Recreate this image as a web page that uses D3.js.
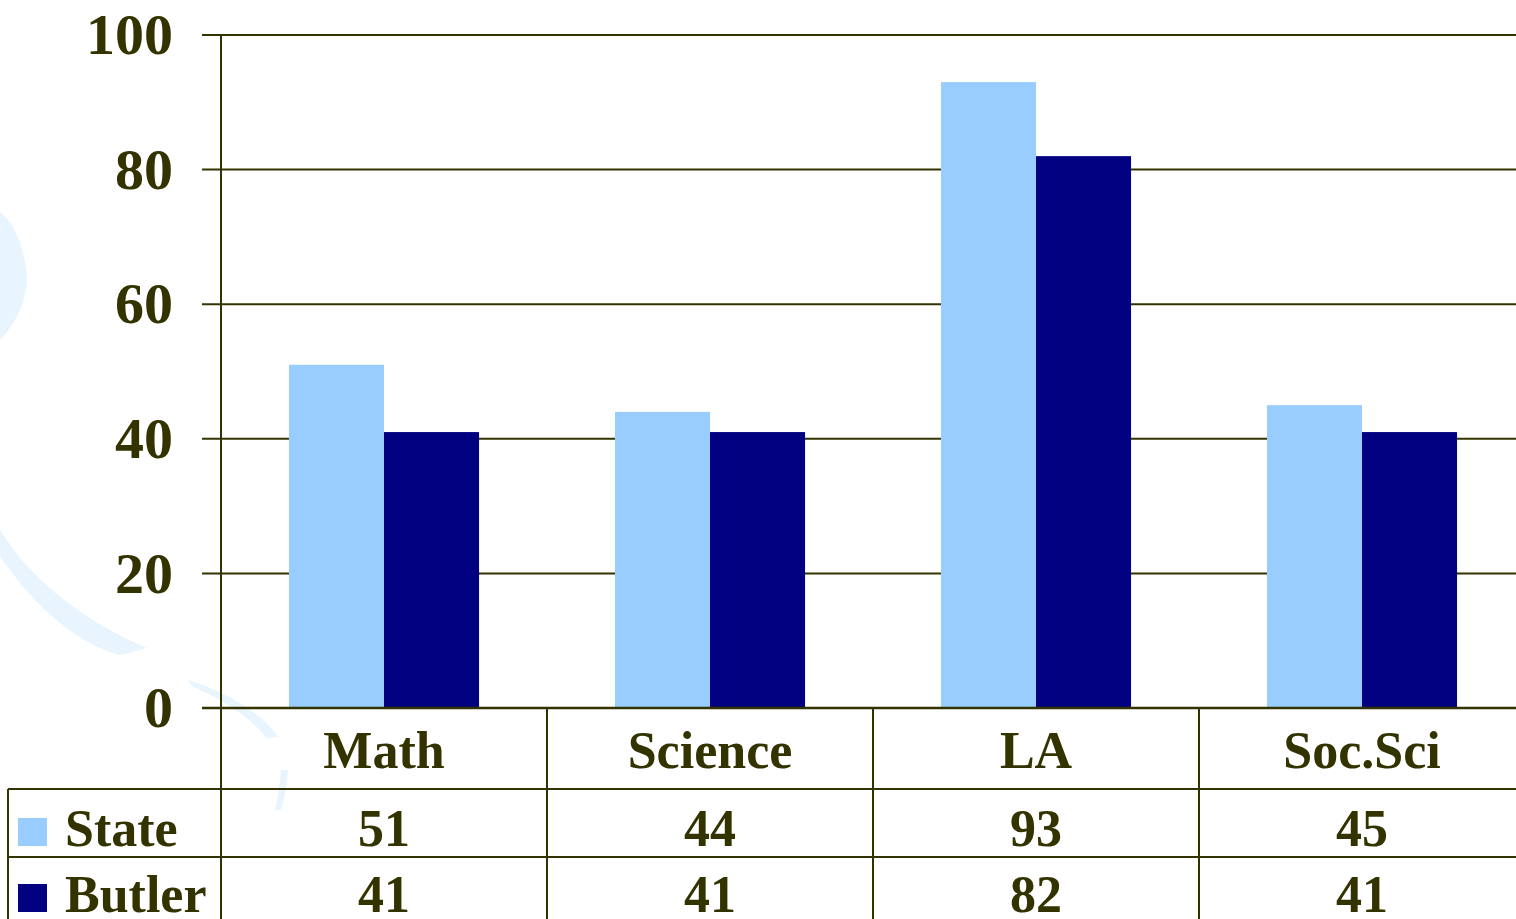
<!DOCTYPE html>
<html>
<head>
<meta charset="utf-8">
<style>
  body { margin: 0; background: #fff; }
  svg { display: block; }
  text { font-family: "Liberation Serif", "Times New Roman", serif; font-weight: bold; fill: #333300; }
</style>
</head>
<body>
<script src="https://cdn.jsdelivr.net/npm/d3@7"></script>
<script>
var categories = ["Math", "Science", "LA", "Soc.Sci"];
var seriesNames = ["State", "Butler"];
var stateValues = [51, 44, 93, 45];
var butlerValues = [41, 41, 82, 41];
var yTicks = [0, 20, 40, 60, 80, 100];
var colors = ["#99ccff", "#000080"];
var ink = "#333300";

var W = 1516, H = 919;
var plotLeft = 221, plotTop = 35, plotBottom = 708;
var catWidth = 326;

var svg = d3.select("body").append("svg")
    .attr("width", W)
    .attr("height", H);

// faint background swirl
var bg = svg.append("g").attr("fill", "#e8f5fe");
bg.append("path").attr("d", "M0,212 C14,222 26,250 27,280 C26,305 12,328 0,340 Z");
bg.append("path").attr("d", "M0,530 C25,570 70,615 147,648 C130,652 122,656 118,655 C70,640 30,600 0,556 Z");
bg.append("path").attr("d", "M188,680 C220,690 260,710 278,737 L266,738 C250,716 222,700 192,686 Z");
bg.append("path").attr("d", "M281,770 L288,770 C287,785 284,800 281,810 L275,810 C278,797 280,783 281,770 Z");

var x = d3.scaleBand()
    .domain(categories)
    .range([plotLeft, plotLeft + catWidth * categories.length]);

var x1 = d3.scaleBand()
    .domain(seriesNames)
    .range([0, x.bandwidth()])
    .paddingOuter(0.715);

var y = d3.scaleLinear()
    .domain([0, 100])
    .range([plotBottom, plotTop]);

// gridlines + ticks
svg.append("g").selectAll("line")
    .data(yTicks)
    .enter().append("line")
    .attr("x1", 202)
    .attr("x2", W)
    .attr("y1", function(d) { return y(d); })
    .attr("y2", function(d) { return y(d); })
    .attr("stroke", ink)
    .attr("stroke-width", 2);

svg.append("g").selectAll("text")
    .data(yTicks)
    .enter().append("text")
    .attr("x", 173)
    .attr("y", function(d) { return y(d); })
    .attr("dy", "0.33em")
    .attr("text-anchor", "end")
    .style("font-size", "58px")
    .text(function(d) { return d; });

// bars
var rows = categories.map(function(c, i) {
  return { cat: c, vals: [stateValues[i], butlerValues[i]] };
});

var groups = svg.append("g").selectAll("g")
    .data(rows)
    .enter().append("g")
    .attr("transform", function(d) { return "translate(" + x(d.cat) + ",0)"; });

groups.selectAll("rect")
    .data(function(d) { return d.vals.map(function(v, j) { return { s: seriesNames[j], v: v, j: j }; }); })
    .enter().append("rect")
    .attr("x", function(d) { return x1(d.s); })
    .attr("width", x1.bandwidth())
    .attr("y", function(d) { return y(d.v); })
    .attr("height", function(d) { return plotBottom - y(d.v); })
    .attr("fill", function(d) { return colors[d.j]; });

// redraw axis line on top
svg.append("line")
    .attr("x1", 202).attr("x2", W)
    .attr("y1", plotBottom).attr("y2", plotBottom)
    .attr("stroke", ink).attr("stroke-width", 2.5);

// data table
var row1 = 789, row2 = 857;
var tbl = svg.append("g").attr("stroke", ink).attr("stroke-width", 2);
tbl.append("line").attr("x1", plotLeft).attr("x2", plotLeft).attr("y1", plotTop).attr("y2", H);
tbl.append("line").attr("x1", 8).attr("x2", W).attr("y1", row1).attr("y2", row1);
tbl.append("line").attr("x1", 8).attr("x2", W).attr("y1", row2).attr("y2", row2);
tbl.append("line").attr("x1", 8).attr("x2", 8).attr("y1", row1).attr("y2", H);
tbl.selectAll(".sep")
    .data(categories.slice(1))
    .enter().append("line")
    .attr("x1", function(d) { return x(d); })
    .attr("x2", function(d) { return x(d); })
    .attr("y1", plotBottom).attr("y2", H);

svg.append("g").selectAll("text")
    .data(categories)
    .enter().append("text")
    .attr("x", function(d) { return x(d) + x.bandwidth() / 2; })
    .attr("y", 768)
    .attr("text-anchor", "middle")
    .style("font-size", "52px")
    .text(function(d) { return d; });

var tableRows = [
  { name: "State", vals: stateValues, base: 846, color: colors[0] },
  { name: "Butler", vals: butlerValues, base: 912, color: colors[1] }
];

tableRows.forEach(function(r) {
  svg.append("rect")
      .attr("x", 18).attr("y", r.base - 28)
      .attr("width", 29).attr("height", 28)
      .attr("fill", r.color);
  svg.append("text")
      .attr("x", 65).attr("y", r.base)
      .style("font-size", "52px")
      .text(r.name);
  svg.append("g").selectAll("text")
      .data(r.vals)
      .enter().append("text")
      .attr("x", function(d, i) { return x(categories[i]) + x.bandwidth() / 2; })
      .attr("y", r.base)
      .attr("text-anchor", "middle")
      .style("font-size", "52px")
      .text(function(d) { return d; });
});
</script>
</body>
</html>
